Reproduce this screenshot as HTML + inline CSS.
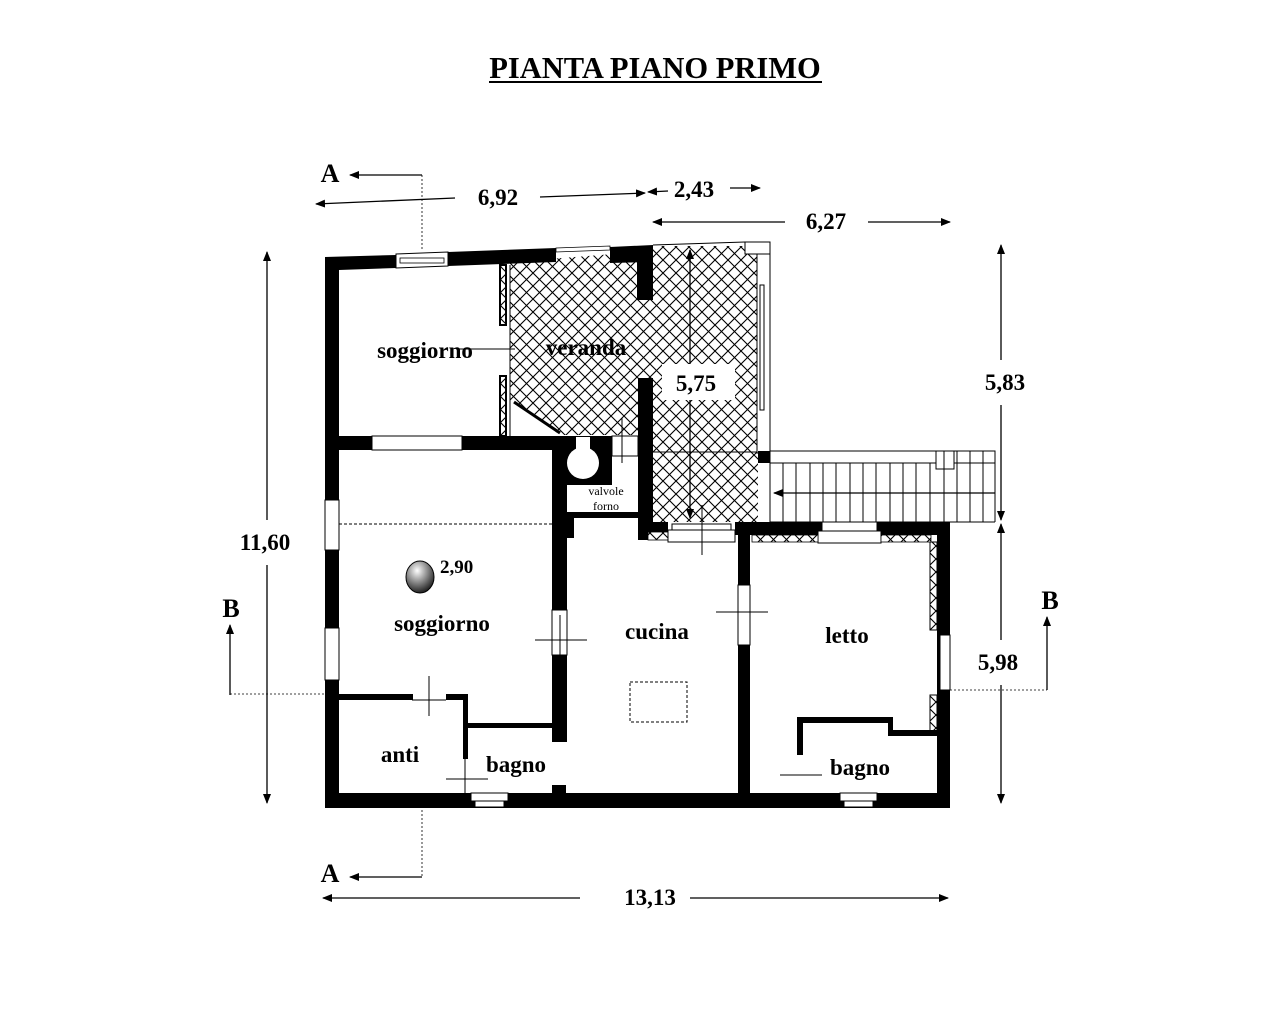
<!DOCTYPE html>
<html><head><meta charset="utf-8"><style>
html,body{margin:0;padding:0;background:#fff;}
svg{display:block;}
text{font-family:"Liberation Serif",serif;font-weight:bold;fill:#000;}
</style></head><body>
<svg width="1280" height="1024" viewBox="0 0 1280 1024" xmlns="http://www.w3.org/2000/svg">
<defs>
<pattern id="h" width="13" height="13" patternUnits="userSpaceOnUse">
<rect width="13" height="13" fill="#fff"/>
<path d="M0,0 L13,13 M13,0 L0,13" stroke="#000" stroke-width="1.1"/>
</pattern>
<marker id="ar" markerWidth="10" markerHeight="8" refX="9" refY="4" orient="auto" markerUnits="userSpaceOnUse"><path d="M0,0 L10,4 L0,8 z" fill="#000"/></marker>
<radialGradient id="sg" cx="40%" cy="30%" r="70%"><stop offset="0" stop-color="#fff"/><stop offset="1" stop-color="#222"/></radialGradient>
</defs>

<!-- Title -->
<text x="655" y="78" font-size="30.5" text-anchor="middle">PIANTA PIANO PRIMO</text>
<rect x="489" y="81" width="333" height="2" fill="#000"/>

<!-- hatched areas -->
<polygon points="510,262 640,252 640,435 560,435 510,400" fill="url(#h)"/>
<rect x="653" y="246" width="105" height="276" fill="url(#h)"/>
<rect x="640" y="300" width="13" height="80" fill="url(#h)"/>
<line x1="653" y1="452" x2="770" y2="452" stroke="#000" stroke-width="1"/>

<!-- veranda right frame -->
<rect x="757" y="243" width="13" height="210" fill="#fff" stroke="#000" stroke-width="1"/>
<rect x="760" y="285" width="4" height="125" fill="#fff" stroke="#000" stroke-width="1"/>
<rect x="745" y="242" width="25" height="12" fill="#fff" stroke="#000" stroke-width="1"/>
<rect x="758" y="451" width="13" height="12" fill="#000"/>

<!-- stairs -->
<rect x="770" y="451" width="225" height="12" fill="#fff" stroke="#000" stroke-width="1"/>
<rect x="936" y="451" width="18" height="18" fill="#fff" stroke="#000" stroke-width="1"/>
<g stroke="#000" stroke-width="1">
<line x1="770" y1="463" x2="770" y2="522"/>
<line x1="783" y1="463" x2="783" y2="522"/><line x1="796" y1="463" x2="796" y2="522"/>
<line x1="810" y1="463" x2="810" y2="522"/><line x1="823" y1="463" x2="823" y2="522"/>
<line x1="836" y1="463" x2="836" y2="522"/><line x1="850" y1="463" x2="850" y2="522"/>
<line x1="863" y1="463" x2="863" y2="522"/><line x1="876" y1="463" x2="876" y2="522"/>
<line x1="890" y1="463" x2="890" y2="522"/><line x1="903" y1="463" x2="903" y2="522"/>
<line x1="916" y1="463" x2="916" y2="522"/><line x1="930" y1="463" x2="930" y2="522"/>
<line x1="944" y1="451" x2="944" y2="522"/><line x1="957" y1="451" x2="957" y2="522"/>
<line x1="970" y1="451" x2="970" y2="522"/><line x1="983" y1="451" x2="983" y2="522"/>
<line x1="995" y1="451" x2="995" y2="522"/>
<line x1="770" y1="522" x2="995" y2="522"/>
</g>
<line x1="995" y1="493" x2="774" y2="493" stroke="#000" stroke-width="1.3" marker-end="url(#ar)"/>

<!-- top slanted wall -->
<polygon points="325,257 396,255 396,268 339,270 325,270" fill="#000"/>
<polygon points="396,254 448,252 448,266 396,268" fill="#fff" stroke="#000" stroke-width="1"/>
<rect x="400" y="258" width="44" height="5" fill="#fff" stroke="#000" stroke-width="0.8"/>
<polygon points="448,252 556,248 556,262 448,266" fill="#000"/>
<polygon points="556,248 610,246 610,250 556,252" fill="#fff" stroke="#000" stroke-width="0.8"/>
<polygon points="610,247 653,245 653,262 610,263" fill="#000"/>
<line x1="653" y1="245" x2="745" y2="242" stroke="#000" stroke-width="1"/>

<!-- outer walls -->
<rect x="325" y="257" width="14" height="550" fill="#000"/>
<rect x="325" y="500" width="14" height="50" fill="#fff" stroke="#000" stroke-width="1"/>
<rect x="325" y="628" width="14" height="52" fill="#fff" stroke="#000" stroke-width="1"/>
<rect x="325" y="793" width="625" height="15" fill="#000"/>
<rect x="471" y="793" width="37" height="8" fill="#fff" stroke="#000" stroke-width="1"/>
<rect x="475" y="801" width="29" height="6" fill="#fff" stroke="#000" stroke-width="1"/>
<rect x="840" y="793" width="37" height="8" fill="#fff" stroke="#000" stroke-width="1"/>
<rect x="844" y="801" width="29" height="6" fill="#fff" stroke="#000" stroke-width="1"/>
<rect x="937" y="522" width="13" height="286" fill="#000"/>
<rect x="940" y="635" width="10" height="55" fill="#fff" stroke="#000" stroke-width="1"/>
<rect x="930" y="542" width="7" height="88" fill="url(#h)" stroke="#000" stroke-width="1"/>
<rect x="930" y="695" width="7" height="40" fill="url(#h)" stroke="#000" stroke-width="1"/>

<!-- veranda left thin wall -->
<rect x="500" y="265" width="6" height="60" fill="url(#h)" stroke="#000" stroke-width="2"/>
<rect x="500" y="376" width="6" height="60" fill="url(#h)" stroke="#000" stroke-width="2"/>
<line x1="510" y1="265" x2="510" y2="436" stroke="#000" stroke-width="1"/>
<line x1="458" y1="349" x2="515" y2="349" stroke="#000" stroke-width="1"/>
<line x1="514" y1="402" x2="560" y2="433" stroke="#000" stroke-width="3"/>

<!-- wall y436-450 -->
<rect x="339" y="436" width="221" height="14" fill="#000"/>
<rect x="372" y="436" width="90" height="14" fill="#fff" stroke="#000" stroke-width="1"/>
<line x1="339" y1="524" x2="553" y2="524" stroke="#000" stroke-width="1" stroke-dasharray="3,2"/>

<!-- valvole room -->
<rect x="552" y="436" width="60" height="49" fill="#000"/>
<circle cx="583" cy="463" r="16" fill="#fff"/>
<rect x="576" y="437" width="14" height="20" fill="#fff"/>
<rect x="612" y="436" width="26" height="20" fill="#fff" stroke="#000" stroke-width="1"/>
<line x1="622" y1="418" x2="622" y2="463" stroke="#000" stroke-width="1"/>
<rect x="637" y="262" width="16" height="38" fill="#000"/>
<rect x="638" y="378" width="15" height="162" fill="#000"/>
<rect x="552" y="485" width="15" height="55" fill="#000"/>
<rect x="567" y="512" width="71" height="6" fill="#000"/>
<rect x="552" y="518" width="22" height="20" fill="#000"/>
<text x="606" y="495" font-size="12" text-anchor="middle" style="font-weight:normal">valvole</text>
<text x="606" y="510" font-size="12" text-anchor="middle" style="font-weight:normal">forno</text>

<!-- soggiorno/cucina wall -->
<rect x="552" y="538" width="15" height="72" fill="#000"/>
<rect x="552" y="610" width="15" height="45" fill="#fff" stroke="#000" stroke-width="1"/>
<line x1="535" y1="640" x2="587" y2="640" stroke="#000" stroke-width="1"/>
<line x1="560" y1="615" x2="560" y2="665" stroke="#000" stroke-width="1"/>
<rect x="552" y="655" width="15" height="87" fill="#000"/>
<rect x="552" y="785" width="14" height="8" fill="#000"/>

<!-- anti / bagno -->
<rect x="339" y="694" width="74" height="6" fill="#000"/>
<rect x="446" y="694" width="22" height="6" fill="#000"/>
<rect x="463" y="694" width="5" height="65" fill="#000"/>
<rect x="463" y="723" width="89" height="5" fill="#000"/>
<line x1="429" y1="676" x2="429" y2="716" stroke="#000" stroke-width="1"/>
<line x1="412" y1="700" x2="446" y2="700" stroke="#000" stroke-width="1"/>
<line x1="465" y1="759" x2="465" y2="793" stroke="#000" stroke-width="1"/>
<line x1="446" y1="779" x2="488" y2="779" stroke="#000" stroke-width="1"/>

<!-- cucina top wall -->
<rect x="653" y="522" width="15" height="10" fill="#000"/>
<rect x="648" y="532" width="20" height="8" fill="url(#h)" stroke="#000" stroke-width="0.8"/>
<rect x="668" y="530" width="67" height="12" fill="#fff" stroke="#000" stroke-width="1"/>
<rect x="672" y="524" width="59" height="6" fill="#fff" stroke="#000" stroke-width="1"/>
<line x1="702" y1="505" x2="702" y2="555" stroke="#000" stroke-width="1"/>
<rect x="735" y="522" width="215" height="13" fill="#000"/>
<rect x="822" y="522" width="55" height="9" fill="#fff" stroke="#000" stroke-width="1"/>
<rect x="818" y="531" width="63" height="12" fill="#fff" stroke="#000" stroke-width="1"/>
<rect x="752" y="535" width="66" height="7" fill="url(#h)" stroke="#000" stroke-width="0.8"/>
<rect x="881" y="535" width="50" height="7" fill="url(#h)" stroke="#000" stroke-width="0.8"/>
<rect x="738" y="522" width="12" height="63" fill="#000"/>
<rect x="738" y="585" width="12" height="60" fill="#fff" stroke="#000" stroke-width="1"/>
<line x1="716" y1="612" x2="768" y2="612" stroke="#000" stroke-width="1"/>
<rect x="738" y="645" width="12" height="163" fill="#000"/>
<rect x="630" y="682" width="57" height="40" fill="none" stroke="#000" stroke-width="1" stroke-dasharray="3,2"/>

<!-- letto bagno walls -->
<rect x="797" y="717" width="6" height="38" fill="#000"/>
<rect x="797" y="717" width="96" height="6" fill="#000"/>
<rect x="888" y="717" width="5" height="18" fill="#000"/>
<rect x="888" y="730" width="49" height="6" fill="#000"/>
<line x1="780" y1="775" x2="822" y2="775" stroke="#000" stroke-width="1"/>

<!-- sphere -->
<ellipse cx="420" cy="577" rx="14" ry="16" fill="url(#sg)" stroke="#000" stroke-width="1"/>
<text x="440" y="573" font-size="19">2,90</text>

<!-- room labels -->
<text x="425" y="358" font-size="23" text-anchor="middle">soggiorno</text>
<text x="586" y="355" font-size="23" text-anchor="middle">veranda</text>
<text x="442" y="631" font-size="23" text-anchor="middle">soggiorno</text>
<text x="657" y="639" font-size="23" text-anchor="middle">cucina</text>
<text x="847" y="643" font-size="23" text-anchor="middle">letto</text>
<text x="400" y="762" font-size="23" text-anchor="middle">anti</text>
<text x="516" y="772" font-size="23" text-anchor="middle">bagno</text>
<text x="860" y="775" font-size="23" text-anchor="middle">bagno</text>

<!-- 5,75 -->
<line x1="690" y1="262" x2="690" y2="250" stroke="#000" stroke-width="1.3" marker-end="url(#ar)"/>
<line x1="690" y1="250" x2="690" y2="518" stroke="#000" stroke-width="1.3" marker-end="url(#ar)"/>
<rect x="662" y="364" width="73" height="36" fill="#fff"/>
<text x="696" y="391" font-size="23" text-anchor="middle">5,75</text>

<!-- dimension lines -->
<g stroke="#000" stroke-width="1.3" fill="none">
<line x1="455" y1="198" x2="316" y2="204" marker-end="url(#ar)"/>
<line x1="540" y1="197" x2="645" y2="193" marker-end="url(#ar)"/>
<line x1="668" y1="191" x2="648" y2="192" marker-end="url(#ar)"/>
<line x1="730" y1="188" x2="760" y2="188" marker-end="url(#ar)"/>
<line x1="785" y1="222" x2="653" y2="222" marker-end="url(#ar)"/>
<line x1="868" y1="222" x2="950" y2="222" marker-end="url(#ar)"/>
<line x1="267" y1="520" x2="267" y2="252" marker-end="url(#ar)"/>
<line x1="267" y1="565" x2="267" y2="803" marker-end="url(#ar)"/>
<line x1="1001" y1="360" x2="1001" y2="245" marker-end="url(#ar)"/>
<line x1="1001" y1="405" x2="1001" y2="520" marker-end="url(#ar)"/>
<line x1="1001" y1="640" x2="1001" y2="524" marker-end="url(#ar)"/>
<line x1="1001" y1="685" x2="1001" y2="803" marker-end="url(#ar)"/>
<line x1="580" y1="898" x2="323" y2="898" marker-end="url(#ar)"/>
<line x1="690" y1="898" x2="948" y2="898" marker-end="url(#ar)"/>
<line x1="422" y1="175" x2="350" y2="175" marker-end="url(#ar)"/>
<line x1="422" y1="877" x2="350" y2="877" marker-end="url(#ar)"/>
<line x1="230" y1="695" x2="230" y2="625" marker-end="url(#ar)"/>
<line x1="1047" y1="690" x2="1047" y2="617" marker-end="url(#ar)"/>
</g>
<g stroke="#000" stroke-width="0.8" stroke-dasharray="2,2">
<line x1="422" y1="175" x2="422" y2="250"/>
<line x1="422" y1="810" x2="422" y2="877"/>
<line x1="230" y1="694" x2="325" y2="694"/>
<line x1="950" y1="690" x2="1047" y2="690"/>
</g>
<text x="498" y="205" font-size="23" text-anchor="middle">6,92</text>
<text x="694" y="197" font-size="23" text-anchor="middle">2,43</text>
<text x="826" y="229" font-size="23" text-anchor="middle">6,27</text>
<text x="265" y="550" font-size="23" text-anchor="middle">11,60</text>
<text x="1005" y="390" font-size="23" text-anchor="middle">5,83</text>
<text x="998" y="670" font-size="23" text-anchor="middle">5,98</text>
<text x="650" y="905" font-size="23" text-anchor="middle">13,13</text>
<text x="330" y="182" font-size="26" text-anchor="middle">A</text>
<text x="330" y="882" font-size="26" text-anchor="middle">A</text>
<text x="231" y="617" font-size="26" text-anchor="middle">B</text>
<text x="1050" y="609" font-size="26" text-anchor="middle">B</text>
</svg>
</body></html>
